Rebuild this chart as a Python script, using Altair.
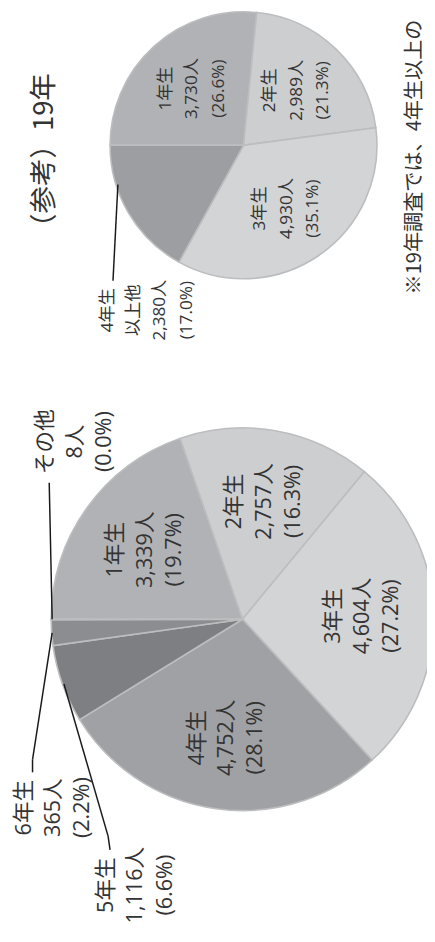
import altair as alt
import pandas as pd

# ---- data: main pie (current survey) ----
main_names = ["1年生", "2年生", "3年生", "4年生", "5年生", "6年生", "その他"]
main_counts = [3339, 2757, 4604, 4752, 1116, 365, 8]
main_pcts = ["19.7", "16.3", "27.2", "28.1", "6.6", "2.2", "0.0"]
main_colors = ["#b1b2b5", "#cdced0", "#d3d4d6", "#a0a1a4", "#7e7f82", "#8c8d90", "#8c8d90"]
main_inside = [True, True, True, True, False, False, False]

# ---- data: reference pie (19年) ----
small_names = ["1年生", "2年生", "3年生", "4年生以上他"]
small_counts = [3730, 2989, 4930, 2380]
small_pcts = ["26.6", "21.3", "35.1", "17.0"]
small_colors = ["#b1b2b5", "#cdced0", "#d3d4d6", "#9d9ea1"]
small_inside = [True, True, True, False]

title_text = "（参考）19年"
note_text = "※19年調査では、4年生以上の"

FONT = '"Open Sans", "Noto Sans CJK JP", sans-serif'
CJK = '"Noto Sans CJK JP", sans-serif'
TXT = "#333333"
STROKE = "#bcbdbf"
START = 4.71238898  # 270 deg on screen
THETA_RANGE = [START, START + 6.28318531]


def label_of(name, count, pct):
    n = name.replace("以上他", "\n以上他")
    return f"{n}\n{count:,}人\n({pct}%)"


def pie_df(names, counts, pcts, colors, inside):
    return pd.DataFrame({
        "name": names,
        "count": counts,
        "ord": list(range(len(names))),
        "col": colors,
        "label": [label_of(n, c, p) for n, c, p in zip(names, counts, pcts)],
        "inlabel": [label_of(n, c, p) if i else "" for n, c, p, i in zip(names, counts, pcts, inside)],
    })


df_main = pie_df(main_names, main_counts, main_pcts, main_colors, main_inside)
df_small = pie_df(small_names, small_counts, small_pcts, small_colors, small_inside)


def pie(df, cx, cy, r, label_r, fsize, lh):
    base = alt.Chart(df).encode(
        theta=alt.Theta("count:Q", stack=True, scale=alt.Scale(range=THETA_RANGE)),
        order=alt.Order("ord:Q"),
        detail=alt.Detail("name:N"),
    )
    arcs = base.mark_arc(x=cx, y=cy, outerRadius=r, stroke=STROKE, strokeWidth=1.6).encode(
        color=alt.Color("col:N", scale=None)
    )
    texts = base.mark_text(
        x=cx, y=cy, radius=label_r, angle=270, align="center", baseline="middle",
        lineBreak="\n", lineHeight=lh, fontSize=fsize, font=FONT, color=TXT, dy=-lh,
    ).encode(text="inlabel:N")
    return alt.layer(arcs, texts)


pie_main = pie(df_main, 239, 614, 195, 122, 22, 30)
pie_small = pie(df_small, 240, 131, 136, 78, 17.5, 27)

# ---- outside labels (annotation positions) ----
out_big = pd.DataFrame({
    "x": [68, 46, 130],
    "y": [433, 806, 885],
    "label": [df_main.label[6], df_main.label[5], df_main.label[4]],
})
out_small = pd.DataFrame({
    "x": [142],
    "y": [299],
    "label": [df_small.label[3]],
})

ann_big = alt.Chart(out_big).mark_text(
    angle=270, align="center", baseline="middle", lineBreak="\n",
    lineHeight=30, fontSize=22, font=FONT, color=TXT, dy=-30,
).encode(x=alt.X("x:Q", scale=None), y=alt.Y("y:Q", scale=None), text="label:N")

ann_small = alt.Chart(out_small).mark_text(
    angle=270, align="center", baseline="middle", lineBreak="\n",
    lineHeight=27, fontSize=17.5, font=FONT, color=TXT, dy=-40.5,
).encode(x=alt.X("x:Q", scale=None), y=alt.Y("y:Q", scale=None), text="label:N")

# leader lines
leaders = pd.DataFrame({
    "x": [42, 45, 25, 57, 102, 112],
    "y": [475, 628, 757, 680, 835, 171],
    "x2": [45, 25, 25, 102, 104, 107],
    "y2": [614, 757, 770, 835, 849, 269],
})
lines = alt.Chart(leaders).mark_rule(color="#1a1a1a", strokeWidth=1.5).encode(
    x=alt.X("x:Q", scale=None), y=alt.Y("y:Q", scale=None),
    x2="x2:Q", y2="y2:Q",
)

# title and footnote
texts_df = pd.DataFrame({"x": [38], "y": [143], "t": [title_text]})
title = alt.Chart(texts_df).mark_text(
    angle=270, align="center", baseline="middle", fontSize=28, font=CJK, color=TXT,
).encode(x=alt.X("x:Q", scale=None), y=alt.Y("y:Q", scale=None), text="t:N")

note_df = pd.DataFrame({"x": [415], "y": [283], "t": [note_text]})
note = alt.Chart(note_df).mark_text(
    angle=270, align="left", baseline="middle", fontSize=20.5, font=CJK, color=TXT,
).encode(x=alt.X("x:Q", scale=None), y=alt.Y("y:Q", scale=None), text="t:N")

chart = alt.layer(
    pie_main, pie_small, lines, ann_big, ann_small, title, note
).resolve_scale(theta="independent").properties(
    width=427, height=934, padding=0, autosize="none"
).configure_view(stroke=None)

chart.save("out.html", embed_options={"renderer": "svg", "actions": False})
